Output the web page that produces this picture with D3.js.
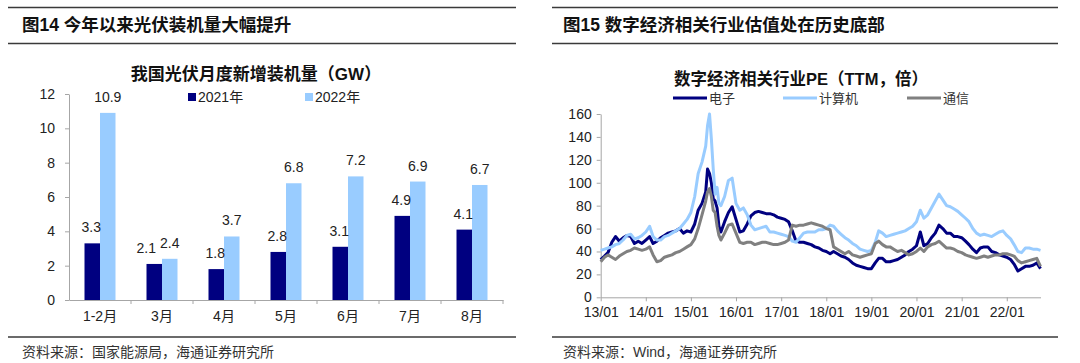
<!DOCTYPE html>
<html>
<head>
<meta charset="utf-8">
<script src="https://cdn.jsdelivr.net/npm/d3@7"></script>
<style>
    body { margin: 0; background: #fff; }
    text { font-family: "Liberation Sans", Arial, "Noto Sans CJK SC", sans-serif; }
</style>
</head>
<body>
<div id="chart"></div>
<script>
// ---- bar chart data ----
const months = ["1-2月", "3月", "4月", "5月", "6月", "7月", "8月"];
const barSeries = ["2021年", "2022年"];
const install2021 = [3.3, 2.1, 1.8, 2.8, 3.1, 4.9, 4.1];
const install2022 = [10.9, 2.4, 3.7, 6.8, 7.2, 6.9, 6.7];
const barTicks = [0, 2, 4, 6, 8, 10, 12];

// ---- line chart data ----
const lineSeries = ["电子", "计算机", "通信"];
const peDates = [
    "2013-01","2013-02","2013-03","2013-04","2013-05","2013-06","2013-07","2013-08","2013-09","2013-10","2013-11","2013-12",
    "2014-01","2014-02","2014-03","2014-04","2014-05","2014-06","2014-07","2014-08","2014-09","2014-10","2014-11","2014-12",
    "2015-01","2015-02","2015-03","2015-04","2015-05","2015-05-16","2015-06","2015-06-16","2015-07","2015-07-16","2015-08","2015-08-16","2015-09","2015-10","2015-11","2015-12",
    "2016-01","2016-02","2016-03","2016-04","2016-05","2016-06","2016-07","2016-08","2016-09","2016-10","2016-11","2016-12",
    "2017-01","2017-02","2017-03","2017-04","2017-05","2017-06","2017-07","2017-08","2017-09","2017-10","2017-11","2017-12",
    "2018-01","2018-02","2018-03","2018-04","2018-05","2018-06","2018-07","2018-08","2018-09","2018-10","2018-11","2018-12",
    "2019-01","2019-02","2019-03","2019-04","2019-05","2019-06","2019-07","2019-08","2019-09","2019-10","2019-11","2019-12",
    "2020-01","2020-02","2020-03","2020-04","2020-05","2020-06","2020-07","2020-08","2020-09","2020-10","2020-11","2020-12",
    "2021-01","2021-02","2021-03","2021-04","2021-05","2021-06","2021-07","2021-08","2021-09","2021-10","2021-11","2021-12",
    "2022-01","2022-02","2022-03","2022-04","2022-05","2022-06","2022-07","2022-08","2022-09","2022-10"
];
const peDianzi = [
    33,36,39,48,53,49,52,54,53,47,49,47,
    50,53,47,49,52,54,56,57,58,60,56,58,
    57,64,76,82,92,112,108,100,86,84,78,62,57,66,74,79,
    68,57,58,64,71,74,75,74,73,73,72,70,
    69,68,66,58,49,48,48,47,46,44,43,41,
    40,38,40,38,36,35,33,30,28,27,26,25,
    25,30,34,34,31,31,32,33,35,37,40,42,
    45,57,45,47,52,56,63,60,56,56,53,53,
    52,49,46,42,39,43,44,44,40,39,37,36,
    35,33,29,23,25,27,27,28,30,25
];
const peJisuanji = [
    41,42,43,44,46,47,50,54,55,51,52,54,
    57,62,53,50,50,53,54,56,58,60,64,68,
    74,88,108,118,132,150,160,138,112,90,96,82,80,88,102,104,
    82,76,78,72,63,59,60,61,62,57,57,56,
    55,54,53,49,48,52,56,57,57,57,59,59,
    60,63,62,58,55,52,50,47,45,42,41,40,
    41,48,58,56,53,54,55,56,57,58,60,62,
    66,76,69,72,78,84,90,85,80,79,77,75,
    72,69,66,60,56,54,55,54,53,55,57,58,
    54,51,46,40,39,43,43,42,42,41
];
const peTongxin = [
    31,35,37,35,33,36,38,40,41,43,42,41,
    42,44,37,31,32,35,36,37,39,40,42,44,
    46,51,60,72,84,92,95,88,76,74,62,54,50,56,63,64,
    56,48,47,48,48,46,47,48,48,47,46,46,
    47,48,50,63,62,63,63,64,65,64,63,62,
    60,59,44,42,40,38,40,37,36,35,36,37,
    38,47,49,46,44,44,42,40,41,39,37,38,
    40,43,40,44,46,47,49,46,43,43,42,40,
    39,37,36,35,34,35,36,35,36,37,37,38,
    38,37,36,32,30,31,32,33,34,27
];
const peTicks = [0, 20, 40, 60, 80, 100, 120, 140, 160];
const yearTicks = ["2013","2014","2015","2016","2017","2018","2019","2020","2021","2022"];

(function(){

    const width = 1080, height = 363;
    const axisColor = "#a6a6a6";

    let svg = d3.select("#chart")
        .append("svg")
        .attr("width", width)
        .attr("height", height)
        .style("display", "block");

    svg.append("rect").attr("width", width).attr("height", height).attr("fill", "#fff");

    // Header / footer frames for both panels
    const panels = [
        {x0: 8, x1: 516, tx: 22, title: "图14 今年以来光伏装机量大幅提升", source: "资料来源：国家能源局，海通证券研究所"},
        {x0: 552, x1: 1058, tx: 563, title: "图15 数字经济相关行业估值处在历史底部", source: "资料来源：Wind，海通证券研究所"}
    ];
    panels.forEach(function(p){
        [7.5, 43.5, 337].forEach(function(yy){
            svg.append("line")
                .attr("x1", p.x0).attr("x2", p.x1)
                .attr("y1", yy).attr("y2", yy)
                .attr("stroke", "#3a3a3a")
                .attr("stroke-width", 1.5);
        });
        svg.append("text")
            .attr("x", p.tx).attr("y", 25)
            .attr("dominant-baseline", "central")
            .style("font-size", "17.5px")
            .style("font-weight", "bold")
            .style("fill", "#111")
            .text(p.title);
        svg.append("text")
            .attr("x", p.tx).attr("y", 352)
            .attr("dominant-baseline", "central")
            .style("font-size", "14px")
            .style("fill", "#333")
            .text(p.source);
    });

    // =========== Bar chart ===========
    let bar = svg.append("g");

    let x0 = d3.scaleBand()
        .domain(months)
        .range([69, 503])
        .padding(0);

    let x1 = d3.scaleBand()
        .domain(barSeries)
        .range([x0.bandwidth() * 0.25, x0.bandwidth() * 0.75])
        .padding(0);

    let yBar = d3.scaleLinear()
        .domain([0, 12])
        .range([300, 94]);

    let barColor = d3.scaleOrdinal()
        .domain(barSeries)
        .range(["#000080", "#99ccff"]);

    // title
    bar.append("text")
        .attr("x", 256).attr("y", 74)
        .attr("text-anchor", "middle")
        .attr("dominant-baseline", "central")
        .style("font-size", "17px")
        .style("font-weight", "bold")
        .style("fill", "#111")
        .text("我国光伏月度新增装机量（GW）");

    // y axis
    let yAxisBar = bar.append("g")
        .attr("transform", "translate(69,0)")
        .call(d3.axisLeft(yBar).tickValues(barTicks).tickSize(4).tickSizeOuter(0).tickPadding(10));
    yAxisBar.select(".domain").attr("stroke", axisColor);
    yAxisBar.selectAll(".tick line").attr("stroke", axisColor);
    yAxisBar.selectAll(".tick text").style("font-size", "14px").style("fill", "#222");

    // x axis (labels at centre, ticks at category borders)
    let xAxisBar = bar.append("g")
        .attr("transform", "translate(0,300)")
        .call(d3.axisBottom(x0).tickSize(0).tickPadding(11));
    xAxisBar.select(".domain").attr("stroke", axisColor);
    xAxisBar.selectAll(".tick text").style("font-size", "14px").style("fill", "#222");
    bar.selectAll("line.border")
        .data(months.slice(1).concat(["end"]))
        .enter()
        .append("line")
        .attr("class", "border")
        .attr("x1", function(d){ return d === "end" ? x0.range()[1] : x0(d); })
        .attr("x2", function(d){ return d === "end" ? x0.range()[1] : x0(d); })
        .attr("y1", 300).attr("y2", 304)
        .attr("stroke", axisColor);

    let barData = months.map(function(m, i){
        return {month: m, values: [
            {key: barSeries[0], value: install2021[i], other: install2022[i]},
            {key: barSeries[1], value: install2022[i], other: install2021[i]}
        ]};
    });

    let groups = bar.selectAll("g.month")
        .data(barData)
        .enter()
        .append("g")
        .attr("class", "month")
        .attr("transform", function(d){ return `translate(${x0(d.month)},0)`; });

    groups.selectAll("rect")
        .data(function(d){ return d.values; })
        .enter()
        .append("rect")
        .attr("x", function(d){ return x1(d.key); })
        .attr("y", function(d){ return yBar(d.value); })
        .attr("width", x1.bandwidth())
        .attr("height", function(d){ return yBar(0) - yBar(d.value); })
        .attr("fill", function(d){ return barColor(d.key); });

    // value labels
    groups.selectAll("text.val")
        .data(function(d){ return d.values; })
        .enter()
        .append("text")
        .attr("class", "val")
        .attr("x", function(d){
            let cx = x1(d.key) + x1.bandwidth() / 2;
            // push the 2021 label left when both labels would collide
            if (d.key === barSeries[0]) cx -= (Math.abs(d.value - d.other) < 0.6 ? 8 : 1);
            return cx;
        })
        .attr("y", function(d){ return yBar(d.value) - 11; })
        .attr("text-anchor", "middle")
        .style("font-size", "14px")
        .style("fill", "#222")
        .text(function(d){ return d.value.toFixed(1); });

    // legend
    let barLegend = bar.selectAll("g.legend")
        .data(barSeries)
        .enter()
        .append("g")
        .attr("class", "legend")
        .attr("transform", function(d, i){ return `translate(${188 + i * 117},97)`; });
    barLegend.append("rect")
        .attr("x", 0).attr("y", -4)
        .attr("width", 8).attr("height", 8)
        .attr("fill", function(d){ return barColor(d); });
    barLegend.append("text")
        .attr("x", 10).attr("y", 0)
        .attr("dominant-baseline", "central")
        .style("font-size", "14px")
        .style("fill", "#222")
        .text(function(d){ return d; });

    // =========== Line chart ===========
    let line = svg.append("g");

    const parseDay = d3.timeParse("%Y-%m-%d");
    const toDate = function(s){ return s.length === 7 ? parseDay(s + "-01") : parseDay(s); };
    let dates = peDates.map(toDate);

    let x = d3.scaleTime()
        .domain([new Date(2013, 0, 1), new Date(2022, 9, 1)])
        .range([600.7, 1040.5]);

    let y = d3.scaleLinear()
        .domain([0, 160])
        .range([297.3, 114]);

    let lineColor = d3.scaleOrdinal()
        .domain(lineSeries)
        .range(["#000080", "#99ccff", "#808080"]);

    line.append("text")
        .attr("x", 801).attr("y", 79)
        .attr("text-anchor", "middle")
        .attr("dominant-baseline", "central")
        .style("font-size", "16.5px")
        .style("font-weight", "bold")
        .style("fill", "#111")
        .text("数字经济相关行业PE（TTM，倍）");

    // y axis
    let yAxis = line.append("g")
        .attr("transform", "translate(600.7,0)")
        .call(d3.axisLeft(y).tickValues(peTicks).tickSize(4).tickSizeOuter(0).tickPadding(5));
    yAxis.select(".domain").attr("stroke", axisColor);
    yAxis.selectAll(".tick line").attr("stroke", axisColor);
    yAxis.selectAll(".tick text").style("font-size", "14px").style("fill", "#222");

    // x axis
    let xAxis = line.append("g")
        .attr("transform", "translate(0,297.3)")
        .call(d3.axisBottom(x)
            .tickValues(yearTicks.map(function(yr){ return new Date(+yr, 0, 1); }))
            .tickFormat(d3.timeFormat("%y/%m"))
            .tickSize(4).tickSizeOuter(0).tickPadding(6));
    xAxis.select(".domain").attr("stroke", axisColor);
    xAxis.selectAll(".tick line").attr("stroke", axisColor);
    xAxis.selectAll(".tick text").style("font-size", "14px").style("fill", "#222");

    let lineData = [
        {name: lineSeries[0], values: peDianzi},
        {name: lineSeries[1], values: peJisuanji},
        {name: lineSeries[2], values: peTongxin}
    ];

    let path = d3.line()
        .x(function(d, i){ return x(dates[i]); })
        .y(function(d){ return y(d); });

    line.selectAll("path.series")
        .data(lineData)
        .enter()
        .append("path")
        .attr("class", "series")
        .attr("d", function(d){ return path(d.values); })
        .attr("fill", "none")
        .attr("stroke", function(d){ return lineColor(d.name); })
        .attr("stroke-width", 3)
        .attr("stroke-linejoin", "round");

    // legend
    const legendX = [673, 783, 907];
    let lineLegend = line.selectAll("g.legend")
        .data(lineSeries)
        .enter()
        .append("g")
        .attr("class", "legend")
        .attr("transform", function(d, i){ return `translate(${legendX[i]},98)`; });
    lineLegend.append("line")
        .attr("x1", 0).attr("x2", 34)
        .attr("y1", 0).attr("y2", 0)
        .attr("stroke", function(d){ return lineColor(d); })
        .attr("stroke-width", 3);
    lineLegend.append("text")
        .attr("x", 36).attr("y", 0)
        .attr("dominant-baseline", "central")
        .style("font-size", "13px")
        .style("fill", "#333")
        .text(function(d){ return d; });

})();
</script>
</body>
</html>
